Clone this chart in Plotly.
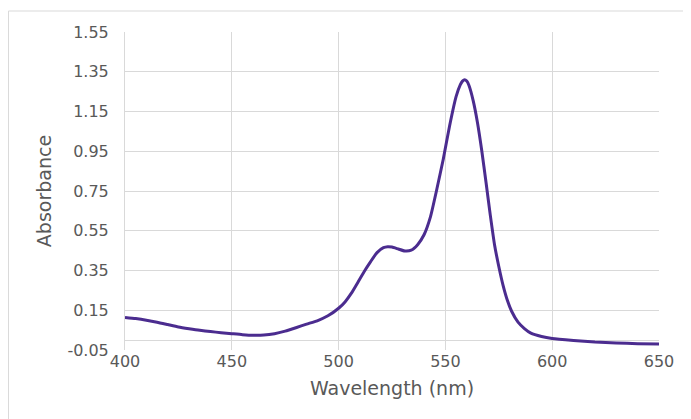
import plotly.graph_objects as go

wavelength = [400, 405, 410, 415, 420, 425, 430, 435, 440, 445, 450, 455, 460, 465,
              470, 475, 480, 485, 490, 495, 500, 503, 506, 509, 512, 515, 518, 521,
              523, 525, 528, 531, 534, 537, 540, 543, 546, 549, 552, 555, 557, 558,
              559, 560, 561, 563, 565, 567, 569, 571, 573, 575, 577, 579, 581, 584,
              587, 590, 595, 600, 610, 620, 630, 640, 650]
absorbance = [0.114, 0.108, 0.100, 0.090, 0.078, 0.066, 0.057, 0.049, 0.043, 0.037,
              0.032, 0.027, 0.024, 0.025, 0.032, 0.045, 0.062, 0.080, 0.097, 0.122,
              0.160, 0.192, 0.236, 0.290, 0.345, 0.395, 0.440, 0.465, 0.470, 0.468,
              0.458, 0.448, 0.452, 0.480, 0.530, 0.620, 0.760, 0.910, 1.080, 1.225,
              1.285, 1.303, 1.310, 1.303, 1.282, 1.205, 1.095, 0.955, 0.795, 0.630,
              0.480, 0.370, 0.275, 0.200, 0.145, 0.090, 0.058, 0.035, 0.018, 0.008,
              -0.002, -0.010, -0.015, -0.018, -0.020]

x_ticks = [400, 450, 500, 550, 600, 650]
y_ticks = [-0.05, 0.15, 0.35, 0.55, 0.75, 0.95, 1.15, 1.35, 1.55]
y_tick_labels = ["-0.05", "0.15", "0.35", "0.55", "0.75", "0.95", "1.15", "1.35", "1.55"]

text_color = "#595959"
grid_color = "#D9D9D9"

fig = go.Figure()
fig.add_trace(go.Scatter(
    x=wavelength, y=absorbance, mode="lines",
    line=dict(color="#4B2C8F", width=3, shape="spline", smoothing=0.5),
    showlegend=False, hoverinfo="skip"))

fig.update_layout(
    width=683, height=411,
    margin=dict(l=117, r=32, t=24, b=69),
    paper_bgcolor="white", plot_bgcolor="white",
    font=dict(family="DejaVu Sans", size=16, color=text_color),
    xaxis=dict(
        range=[400, 650], tickvals=x_ticks, ticktext=[str(v) for v in x_ticks],
        showgrid=True, gridcolor=grid_color, gridwidth=1,
        zeroline=False, showline=False, ticks="",
        title=dict(text="Wavelength (nm)", font=dict(size=19, color=text_color), standoff=11),
    ),
    yaxis=dict(
        range=[-0.05, 1.55], tickvals=y_ticks, ticktext=y_tick_labels,
        showgrid=True, gridcolor=grid_color, gridwidth=1,
        zeroline=True, zerolinecolor=grid_color, zerolinewidth=1,
        showline=True, linecolor=grid_color, linewidth=1, ticks="",
        ticklabelstandoff=12,
        title=dict(text="Absorbance", font=dict(size=19, color=text_color), standoff=10),
    ),
    shapes=[dict(type="rect", xref="paper", yref="paper",
                 x0=-0.2182, x1=1.1, y0=-0.3, y1=1.066,
                 line=dict(color=grid_color, width=1), fillcolor="rgba(0,0,0,0)",
                 layer="below")],
)

fig.write_html("out.html")
